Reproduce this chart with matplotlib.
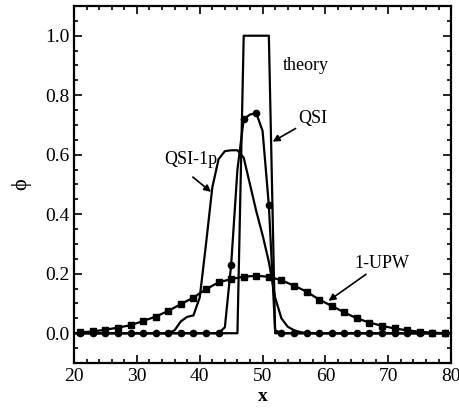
import numpy as np
import matplotlib
matplotlib.use("Agg")
import matplotlib.pyplot as plt
from matplotlib.ticker import MultipleLocator

# grid positions
x = np.arange(20, 81)

theory = [0.0] * 27 + [1.0] * 5 + [0.0] * 29

qsi = ([0.0] * 24 +
       [0.02, 0.23, 0.55, 0.72, 0.735, 0.74, 0.68, 0.43, 0.01] +
       [0.0] * 28)

qsi_1p = ([0.0] * 16 +
          [0.01, 0.04, 0.055, 0.06, 0.12, 0.30, 0.49, 0.585, 0.612, 0.615, 0.615,
           0.59, 0.50, 0.41, 0.33, 0.24, 0.12, 0.05, 0.022, 0.01, 0.004] +
          [0.0] * 24)

upw_x = np.arange(21, 80, 2)
upw = [0.003, 0.006, 0.012, 0.019, 0.027, 0.041, 0.056, 0.075, 0.098, 0.12,
       0.148, 0.171, 0.182, 0.19, 0.193, 0.19, 0.178, 0.16, 0.14, 0.113,
       0.092, 0.07, 0.05, 0.036, 0.025, 0.016, 0.01, 0.005, 0.002, 0.0]

plt.rcParams['font.family'] = ['Liberation Serif', 'DejaVu Serif']

fig = plt.figure(figsize=(4.6, 4.09), dpi=100)
ax = fig.add_axes([0.161, 0.1125, 0.8196, 0.8729])

lw = 1.6
ax.plot(x, theory, color='k', lw=lw)
ax.plot(x, qsi, color='k', lw=lw, marker='o', ms=4.5, markevery=slice(1, None, 2))
ax.plot(x, qsi_1p, color='k', lw=lw)
ax.plot(upw_x, upw, color='k', lw=lw, marker='s', ms=4.5)

ax.set_xlim(20, 80)
ax.set_ylim(-0.1, 1.1)
ax.xaxis.set_major_locator(MultipleLocator(10))
ax.xaxis.set_minor_locator(MultipleLocator(2))
ax.yaxis.set_major_locator(MultipleLocator(0.2))
ax.yaxis.set_minor_locator(MultipleLocator(0.05))
ax.yaxis.set_major_formatter(matplotlib.ticker.FormatStrFormatter('%.1f'))
ax.tick_params(which='both', direction='in', top=True, right=True, width=1.2)
ax.tick_params(which='major', length=6, labelsize=14)
ax.tick_params(which='minor', length=3)
for s in ax.spines.values():
    s.set_linewidth(1.6)

ax.set_xlabel('x', fontsize=14, fontweight='bold', labelpad=2)
ax.set_ylabel('ϕ', fontsize=16, labelpad=10)

arrow = dict(arrowstyle='-|>', color='k', lw=1.2, mutation_scale=10, shrinkA=0, shrinkB=0)
ax.text(53.3, 0.9, 'theory', fontsize=13, ha='left', va='center')
ax.annotate('QSI', xy=(51.6, 0.644), xytext=(55.7, 0.693), fontsize=13,
            ha='left', va='bottom', arrowprops=arrow)
ax.text(42.8, 0.585, 'QSI-1p', fontsize=13, ha='right', va='center')
ax.annotate('', xy=(41.8, 0.475), xytext=(38.9, 0.525), arrowprops=arrow)
ax.annotate('1-UPW', xy=(60.5, 0.109), xytext=(69.0, 0.236), fontsize=13,
            ha='center', va='center', arrowprops=arrow)

fig.savefig('out.png', dpi=100)
